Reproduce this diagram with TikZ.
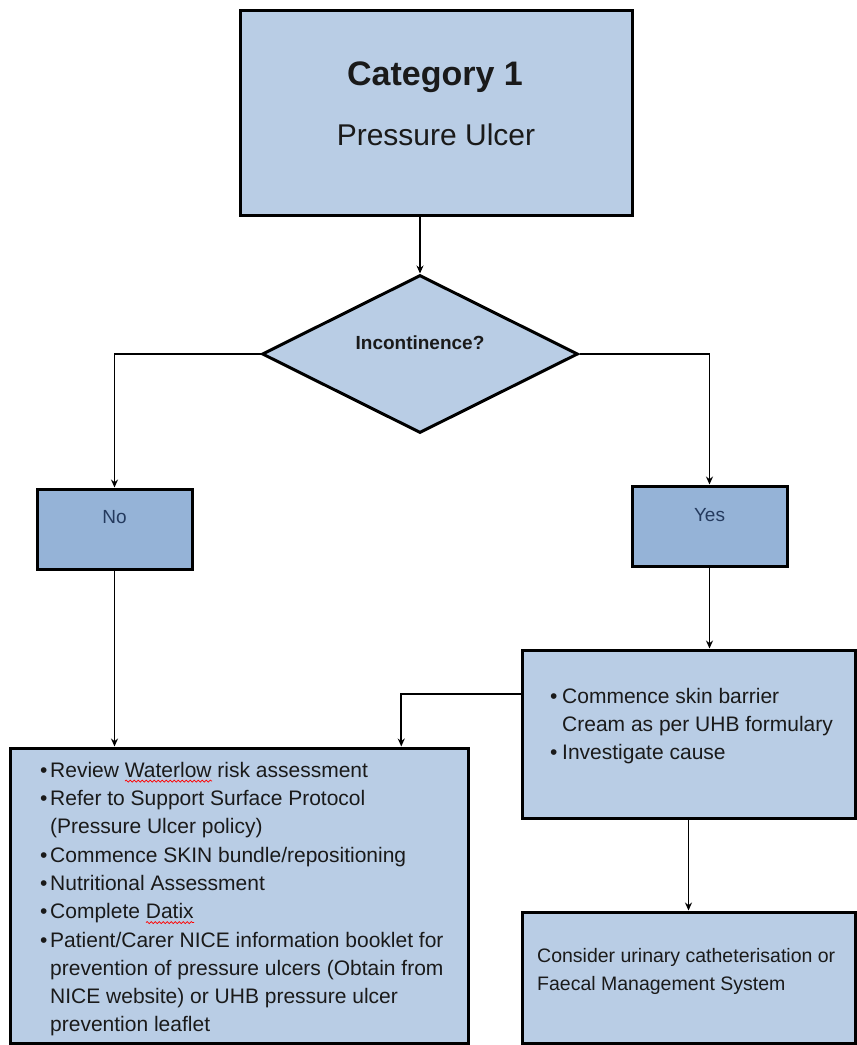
\documentclass[tikz,border=0pt]{standalone}
\usepackage{fontspec}
\setmainfont{Liberation Sans}
\usetikzlibrary{shapes.geometric,arrows.meta,decorations.pathmorphing,calc}
\definecolor{lightfill}{HTML}{B9CDE5}
\definecolor{darkfill}{HTML}{95B3D7}
\definecolor{inkc}{HTML}{1A1A1A}
\definecolor{navyc}{HTML}{243A5E}
\begin{document}
\begin{tikzpicture}[x=1pt,y=-1pt,
  box/.style={draw=black,line width=3pt,fill=lightfill,rectangle,inner sep=0pt},
  ansbox/.style={box,fill=darkfill,text=navyc,font=\fontsize{19}{23}\selectfont,text height=0pt},
  decision/.style={draw=black,line width=3pt,fill=lightfill,diamond,inner sep=0pt,
    minimum width=316pt,minimum height=158pt,text=inkc,font=\bfseries\fontsize{19}{23}\selectfont,
    text height=0pt,text depth=10pt},
  arr/.style={line width=1.8pt,-{Stealth[length=8pt,width=7pt]}},
  bodytext/.style={anchor=north west,align=left,inner sep=0pt,text=inkc,font=\fontsize{21}{28.3}\selectfont},
  squiggle/.style={red,line width=0.7pt,decorate,decoration={snake,amplitude=1pt,segment length=4pt}}]
\useasboundingbox (0,0) rectangle (857,1045);
\fill[white] (0,0) rectangle (857,1045);

% boxes
\node[box,minimum width=392pt,minimum height=205pt] (top) at (436,112.5) {};
\node[anchor=base,inner sep=0pt,text=inkc,font=\bfseries\fontsize{34}{40}\selectfont] (cat) at (435,85) {Category 1};
\node[anchor=base,inner sep=0pt,text=inkc,font=\fontsize{30}{36}\selectfont] (pu) at (436,145) {Pressure Ulcer};

\node[decision] (dia) at (420,354) {Incontinence?};

\node[ansbox,minimum width=155pt,minimum height=80pt,text depth=12pt] (no) at (114.5,529) {No};
\node[ansbox,minimum width=155pt,minimum height=80pt,text depth=10pt] (yes) at (709.5,526) {Yes};

\node[box,minimum width=458pt,minimum height=295pt] (bl) at (239,895.5) {};
\node[box,minimum width=333pt,minimum height=168pt] (r1) at (688.5,734) {};
\node[box,minimum width=333pt,minimum height=131pt] (r2) at (688.5,977.5) {};

% texts
\node[bodytext] (blt) at (40,757) {\rule{0pt}{20pt}\makebox[10pt][l]{•}Review Waterlow risk assessment\\
\makebox[10pt][l]{•}Refer to Support Surface Protocol\\
\hspace*{10pt}(Pressure Ulcer policy)\\
\makebox[10pt][l]{•}Commence SKIN bundle/repositioning\\
\makebox[10pt][l]{•}Nutritional Assessment\\
\makebox[10pt][l]{•}Complete Datix\\
\makebox[10pt][l]{•}Patient/Carer NICE information booklet for\\
\hspace*{10pt}prevention of pressure ulcers (Obtain from\\
\hspace*{10pt}NICE website) or UHB pressure ulcer\\
\hspace*{10pt}prevention leaflet};

\node[bodytext,font=\fontsize{21}{28}\selectfont] (r1t) at (550,683) {\rule{0pt}{20pt}\makebox[12pt][l]{•}Commence skin barrier\\
\hspace*{12pt}Cream as per UHB formulary\\
\makebox[12pt][l]{•}Investigate cause};

\node[bodytext,font=\fontsize{19.5}{28}\selectfont] (r2t) at (537,942) {\rule{0pt}{20pt}Consider urinary catheterisation or\\
Faecal Management System};

% spell-check squiggles
\draw[squiggle] (125,781) -- (212,781);
\draw[squiggle] (146,922.5) -- (194,922.5);

% connectors
\draw[arr] (dia.north |- top.south) -- (dia.north);
\draw[arr] (dia.west) -| (no.north);
\draw[arr] (dia.east) -| (yes.north);
\draw[arr] (no.south) -- (no.south |- bl.north);
\draw[arr] (yes.south) -- (yes.south |- r1.north);
\draw[arr] ($(r1.north west)!0.268!(r1.south west)$) -| ($(bl.north west)!0.852!(bl.north east)$);
\draw[arr] (r1.south) -- (r1.south |- r2.north);
\end{tikzpicture}
\end{document}
